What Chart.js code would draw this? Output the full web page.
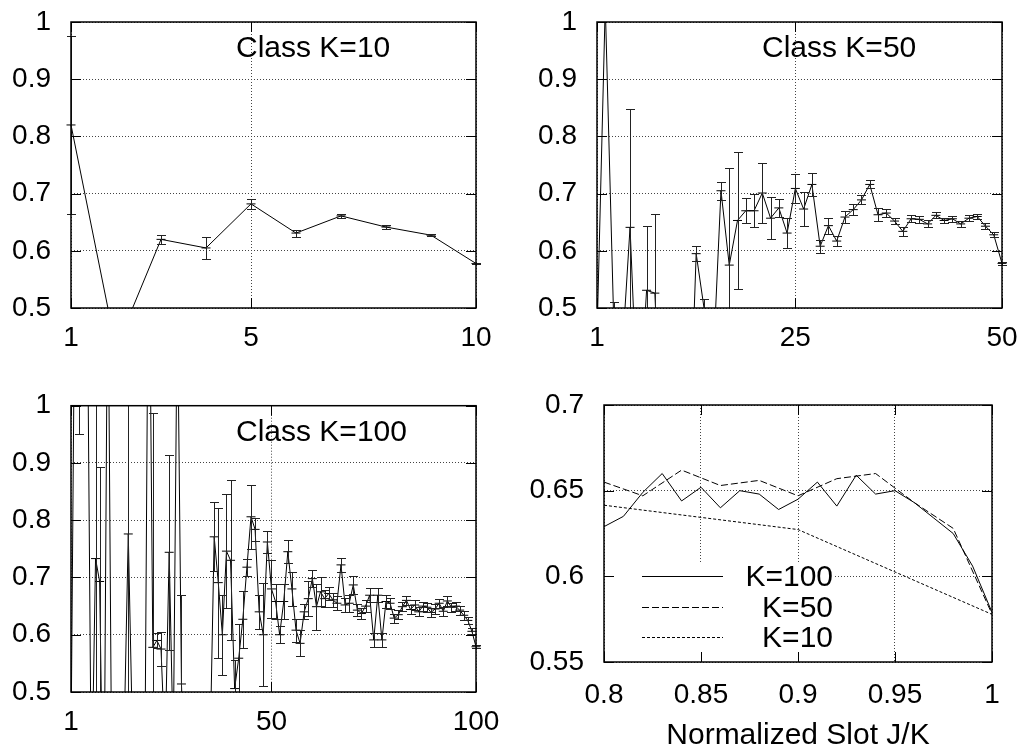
<!DOCTYPE html>
<html>
<head>
<meta charset="utf-8">
<script src="https://cdn.jsdelivr.net/npm/chart.js@4.4.1/dist/chart.umd.min.js"></script>
<style>
  body { margin: 0; background: #fff; }
  #wrap { position: relative; width: 1026px; height: 754px; }
  canvas { position: absolute; }
</style>
</head>
<body>
<div id="wrap">
  <canvas id="c10" width="513" height="377" style="left:0;top:0"></canvas>
  <canvas id="c50" width="513" height="377" style="left:513px;top:0"></canvas>
  <canvas id="c100" width="513" height="377" style="left:0;top:377px"></canvas>
  <canvas id="cNorm" width="513" height="377" style="left:513px;top:377px"></canvas>
</div>
<script>
// class K=10 : mean and error per slot 1..10
var k10Mean = [0.82, 0.43, 0.620, 0.605, 0.682, 0.631, 0.661, 0.6415, 0.6273, 0.5778];
var k10Err = [0.155, 0.05, 0.008, 0.020, 0.009, 0.006, 0.003, 0.003, 0.002, 0.001];

// class K=50 : slot 1..50
var k50Mean = [0.45, 1.03, 0.49, 0.41, 0.641, 0.29, 0.531, 0.526, 0.20, 0.20,
  0.20, 0.18, 0.595, 0.495, 0.385, 0.705, 0.575, 0.653, 0.670, 0.670,
  0.701, 0.657, 0.675, 0.631, 0.709, 0.673, 0.716, 0.608, 0.644, 0.617,
  0.659, 0.672, 0.689, 0.716, 0.663, 0.666, 0.652, 0.634, 0.656, 0.655,
  0.647, 0.662, 0.653, 0.656, 0.647, 0.657, 0.660, 0.643, 0.628, 0.578];
var k50Err = [0.02, 0.02, 0.02, 0.02, 0.207, 0.02, 0.113, 0.138, 0.02, 0.02,
  0.02, 0.02, 0.013, 0.02, 0.02, 0.016, 0.17, 0.12, 0.022, 0.029,
  0.053, 0.037, 0.016, 0.026, 0.025, 0.030, 0.020, 0.011, 0.014, 0.009,
  0.011, 0.010, 0.008, 0.007, 0.011, 0.007, 0.006, 0.008, 0.006, 0.006,
  0.006, 0.005, 0.005, 0.005, 0.005, 0.005, 0.005, 0.005, 0.004, 0.002];

// class K=100 : slot 1..100
var k100Mean = [0.40, 1.30, 1.25, 1.20, 1.20, 0.30, 0.733, 0.693, 0.20, 1.30,
  0.30, 0.30, 0.30, 0.43, 0.776, 0.43, 0.30, 0.30, 0.30, 1.40,
  0.578, 0.590, 0.575, 0.40, 0.744, 0.40, 1.20, 0.514, 0.30, 0.30,
  0.30, 0.30, 0.30, 0.30, 0.40, 0.771, 0.691, 0.600, 0.746, 0.730,
  0.506, 0.559, 0.627, 0.718, 0.806, 0.784, 0.640, 0.600, 0.762, 0.680,
  0.658, 0.600, 0.658, 0.745, 0.680, 0.608, 0.585, 0.640, 0.663, 0.698,
  0.649, 0.675, 0.663, 0.672, 0.661, 0.655, 0.722, 0.652, 0.655, 0.687,
  0.643, 0.637, 0.650, 0.669, 0.591, 0.669, 0.591, 0.658, 0.655, 0.629,
  0.635, 0.649, 0.660, 0.644, 0.652, 0.640, 0.650, 0.648, 0.639, 0.645,
  0.655, 0.641, 0.659, 0.648, 0.650, 0.643, 0.634, 0.625, 0.606, 0.579];
var k100Err = [0.05, 0.3, 0.3, 0.05, 0.05, 0.05, 0.30, 0.20, 0.05, 0.05,
  0.05, 0.05, 0.05, 0.05, 0.30, 0.05, 0.05, 0.05, 0.05, 0.05,
  0.41, 0.013, 0.03, 0.05, 0.17, 0.05, 0.05, 0.155, 0.05, 0.05,
  0.05, 0.05, 0.05, 0.05, 0.05, 0.06, 0.131, 0.07, 0.099, 0.14,
  0.05, 0.06, 0.05, 0.015, 0.056, 0.02, 0.03, 0.09, 0.02, 0.05,
  0.03, 0.015, 0.03, 0.02, 0.03, 0.02, 0.023, 0.013, 0.03, 0.015,
  0.04, 0.025, 0.015, 0.012, 0.012, 0.012, 0.012, 0.012, 0.015, 0.015,
  0.01, 0.01, 0.01, 0.012, 0.012, 0.012, 0.012, 0.012, 0.01, 0.008,
  0.008, 0.008, 0.008, 0.008, 0.008, 0.008, 0.008, 0.008, 0.008, 0.008,
  0.008, 0.008, 0.008, 0.008, 0.008, 0.008, 0.008, 0.006, 0.005, 0.003];

// tick values
var yTicksClass = [0.5, 0.6, 0.7, 0.8, 0.9, 1];
var xTicks10 = [1, 5, 10];
var xTicks50 = [1, 25, 50];
var xTicks100 = [1, 50, 100];
var yTicksNorm = [0.55, 0.6, 0.65, 0.7];
var xTicksNorm = [0.8, 0.85, 0.9, 0.95, 1];

Chart.defaults.font.family = "'Liberation Sans', Arial, Helvetica, sans-serif";
Chart.defaults.color = '#000';

// slot number -> point
function slotPoints(values) {
  return values.map(function (v, i) { return { x: i + 1, y: v }; });
}
// tail of a class, plotted against normalized slot j/K
function normPoints(values, k, fromSlot) {
  return values.slice(fromSlot - 1).map(function (v, i) {
    return { x: (fromSlot + i) / k, y: v };
  });
}

// no extra room for overhanging labels, the layout padding decides
function noScalePadding(s) {
  s.paddingTop = 0;
  s.paddingBottom = 0;
  s.paddingLeft = 0;
  s.paddingRight = 0;
}

// frame, inward ticks, error bars, key text - gnuplot style
var gnuplotLook = {
  id: 'gnuplotLook',
  beforeDatasetsDraw: function (chart, args, opts) {
    var a = chart.chartArea, ctx = chart.ctx;
    if (opts.keyBox) {
      ctx.save();
      ctx.fillStyle = '#fff';
      ctx.fillRect(a.left + 12, a.top + 157, 219, a.bottom - a.top - 157);
      ctx.restore();
    }
  },
  afterDatasetsDraw: function (chart, args, opts) {
    var ctx = chart.ctx, a = chart.chartArea;
    var xs = chart.scales.x, ys = chart.scales.y;

    // error bars
    chart.data.datasets.forEach(function (ds) {
      if (!ds.errorBars) return;
      ctx.save();
      ctx.beginPath();
      ctx.rect(a.left - 6, a.top, a.right - a.left + 12, a.bottom - a.top);
      ctx.clip();
      ctx.strokeStyle = '#222';
      ctx.lineWidth = 1;
      ds.data.forEach(function (p, i) {
        var e = ds.errorBars[i];
        var px = Math.round(xs.getPixelForValue(p.x)) + 0.5;
        var top = Math.round(ys.getPixelForValue(p.y + e)) + 0.5;
        var bot = Math.round(ys.getPixelForValue(p.y - e)) + 0.5;
        ctx.beginPath();
        ctx.moveTo(px, top); ctx.lineTo(px, bot);
        ctx.moveTo(px - 4.5, top); ctx.lineTo(px + 4.5, top);
        ctx.moveTo(px - 4.5, bot); ctx.lineTo(px + 4.5, bot);
        ctx.stroke();
      });
      ctx.restore();
    });

    // border and inward ticks
    ctx.save();
    ctx.strokeStyle = '#000';
    ctx.lineWidth = 1.5;
    ctx.strokeRect(a.left, a.top, a.right - a.left, a.bottom - a.top);
    ctx.lineWidth = 1;
    ctx.beginPath();
    xs.ticks.forEach(function (t) {
      var px = Math.round(xs.getPixelForValue(t.value)) + 0.5;
      ctx.moveTo(px, a.bottom); ctx.lineTo(px, a.bottom - 10);
      ctx.moveTo(px, a.top); ctx.lineTo(px, a.top + 10);
    });
    ys.ticks.forEach(function (t) {
      var py = Math.round(ys.getPixelForValue(t.value)) + 0.5;
      ctx.moveTo(a.left, py); ctx.lineTo(a.left + 10, py);
      ctx.moveTo(a.right, py); ctx.lineTo(a.right - 10, py);
    });
    ctx.stroke();
    ctx.restore();
  },
  afterDraw: function (chart, args, opts) {
    var ctx = chart.ctx, a = chart.chartArea;
    ctx.save();
    ctx.fillStyle = '#000';
    ctx.font = "30px 'Liberation Sans', Arial, sans-serif";
    if (opts.title) {
      ctx.textAlign = 'left';
      ctx.textBaseline = 'alphabetic';
      ctx.fillText(opts.title, a.left + 165, a.top + 35);
    }
    if (opts.key) {
      // line samples with labels, right aligned text
      chart.data.datasets.forEach(function (ds, i) {
        var y = Math.round(a.top + 171 + i * 30.5) + 0.5;
        ctx.strokeStyle = ds.borderColor;
        ctx.lineWidth = 1;
        ctx.setLineDash(ds.borderDash || []);
        ctx.beginPath();
        ctx.moveTo(a.left + 38, y);
        ctx.lineTo(a.left + 119, y);
        ctx.stroke();
        ctx.setLineDash([]);
        ctx.textAlign = 'right';
        ctx.textBaseline = 'middle';
        ctx.fillText(ds.label, a.left + 229, y + 1);
      });
    }
    ctx.restore();
  }
};

function classSet(mean, err) {
  return {
    data: slotPoints(mean),
    errorBars: err,
    borderColor: '#000',
    borderWidth: 1,
    tension: 0,
    pointStyle: 'line',
    pointRadius: 4.5,
    pointBorderColor: '#000',
    pointBorderWidth: 1,
    clip: { left: 6, right: 6, top: 0, bottom: 0 }
  };
}

function makePanel(id, cfg) {
  var last = cfg.xTicks.length - 1;
  var ylast = cfg.yTicks.length - 1;
  var gridOpts = { color: '#444', lineWidth: 1, drawTicks: false };
  return new Chart(document.getElementById(id), {
    type: 'line',
    data: { datasets: cfg.datasets },
    options: {
      responsive: false,
      animation: false,
      events: [],
      layout: { padding: cfg.padding, autoPadding: false },
      plugins: {
        legend: { display: false },
        tooltip: { enabled: false },
        gnuplotLook: cfg.look
      },
      scales: {
        x: {
          type: 'linear',
          min: cfg.xTicks[0],
          max: cfg.xTicks[last],
          afterBuildTicks: function (s) {
            s.ticks = cfg.xTicks.map(function (v) { return { value: v }; });
          },
          afterFit: function (s) {
            s.height = cfg.xHeight;
            noScalePadding(s);
          },
          ticks: {
            font: { size: 28 },
            padding: cfg.xPad,
            maxRotation: 0,
            autoSkip: false,
            callback: function (v) { return String(v); }
          },
          grid: gridOpts,
          border: { display: false, dash: [1, 2] },
          title: cfg.xTitle ? {
            display: true,
            text: cfg.xTitle,
            font: { size: 30 },
            padding: { top: 0, bottom: 0 }
          } : { display: false }
        },
        y: {
          min: cfg.yTicks[0],
          max: cfg.yTicks[ylast],
          afterBuildTicks: function (s) {
            s.ticks = cfg.yTicks.map(function (v) { return { value: v }; });
          },
          afterFit: function (s) {
            s.width = cfg.yWidth;
            noScalePadding(s);
          },
          ticks: {
            font: { size: 28 },
            padding: 20,
            autoSkip: false,
            callback: function (v) { return String(v); }
          },
          grid: gridOpts,
          border: { display: false, dash: [1, 2] }
        }
      }
    },
    plugins: [gnuplotLook]
  });
}

// top left
makePanel('c10', {
  datasets: [classSet(k10Mean, k10Err)],
  xTicks: xTicks10, yTicks: yTicksClass,
  padding: { left: 1, top: 22, right: 37, bottom: 19 }, xHeight: 50, yWidth: 70, xPad: 13,
  look: { title: 'Class K=10' }
});

// top right
makePanel('c50', {
  datasets: [classSet(k50Mean, k50Err)],
  xTicks: xTicks50, yTicks: yTicksClass,
  padding: { left: 4, top: 22, right: 24, bottom: 19 }, xHeight: 50, yWidth: 80, xPad: 13,
  look: { title: 'Class K=50' }
});

// bottom left
makePanel('c100', {
  datasets: [classSet(k100Mean, k100Err)],
  xTicks: xTicks100, yTicks: yTicksClass,
  padding: { left: 1, top: 28.7, right: 37, bottom: 12 }, xHeight: 50, yWidth: 70, xPad: 13,
  look: { title: 'Class K=100' }
});

// bottom right, last fifth of every class
makePanel('cNorm', {
  datasets: [
    { label: 'K=100', data: normPoints(k100Mean, 100, 80), borderColor: '#000', borderWidth: 1, pointRadius: 0, tension: 0 },
    { label: 'K=50', data: normPoints(k50Mean, 50, 40), borderColor: '#000', borderWidth: 1, borderDash: [7, 3], pointRadius: 0, tension: 0 },
    { label: 'K=10', data: normPoints(k10Mean, 10, 8), borderColor: '#000', borderWidth: 1, borderDash: [3, 2], pointRadius: 0, tension: 0 }
  ],
  xTicks: xTicksNorm, yTicks: yTicksNorm,
  padding: { left: 1, top: 28, right: 34, bottom: 0 }, xHeight: 92, yWidth: 90, xPad: 16,
  xTitle: 'Normalized Slot J/K',
  look: { key: true, keyBox: true }
});
</script>
</body>
</html>
